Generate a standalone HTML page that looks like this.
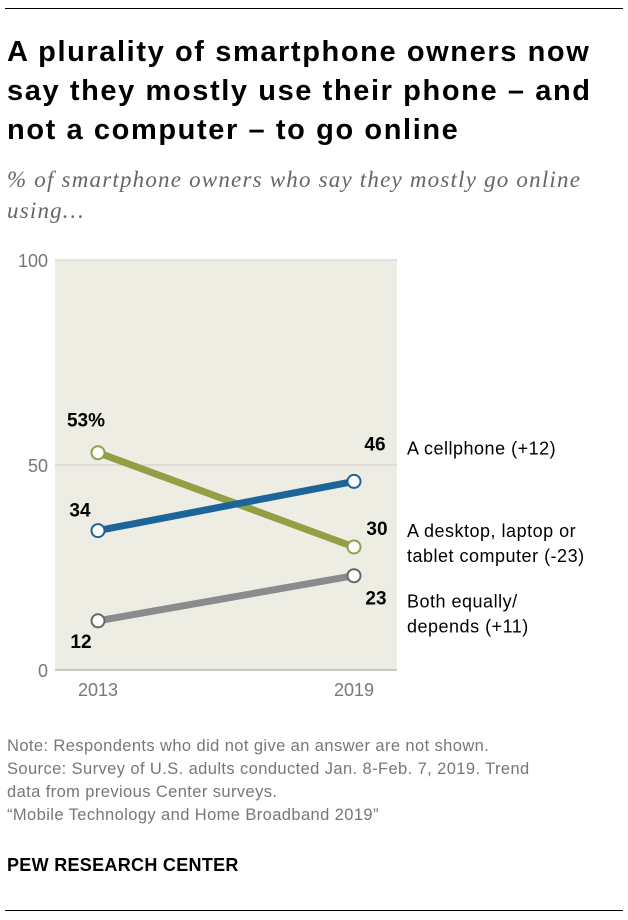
<!DOCTYPE html>
<html><head><meta charset="utf-8"><style>
body{margin:0;width:628px;height:920px;background:#fff;font-family:"Liberation Sans",sans-serif;position:relative;overflow:hidden}
.abs{position:absolute}
</style></head><body>
<div class="abs" style="left:5px;top:8px;width:618px;height:1px;background:#000"></div>
<div class="abs" style="left:7px;top:33px;width:620px;font-weight:bold;font-size:29px;letter-spacing:1.6px;line-height:39px;color:#000;white-space:nowrap">A plurality of smartphone owners now<br>say they mostly use their phone – and<br>not a computer – to go online</div>
<div class="abs" style="left:7px;top:164px;width:620px;font-style:italic;font-size:23px;letter-spacing:1.2px;line-height:31px;color:#666;font-family:'Liberation Serif',serif;white-space:nowrap">% of smartphone owners who say they mostly go online<br>using…</div>
<svg class="abs" style="left:0;top:0" width="628" height="920">
<rect x="55" y="260" width="342" height="410" fill="#eeede4"/>
<g id="grid"></g><g id="lines"></g><g id="labels"></g>
</svg>
<div class="abs" style="left:7px;top:735px;width:620px;font-size:16.5px;letter-spacing:0.4px;line-height:23px;color:#777;white-space:nowrap">Note: Respondents who did not give an answer are not shown.<br>Source: Survey of U.S. adults conducted Jan. 8-Feb. 7, 2019. Trend<br>data from previous Center surveys.<br>“Mobile Technology and Home Broadband 2019”</div>
<div class="abs" style="left:7px;top:855px;font-size:18px;letter-spacing:0.3px;font-weight:bold;color:#000">PEW RESEARCH CENTER</div>
<div class="abs" style="left:5px;top:910px;width:618px;height:1px;background:#000"></div>
<script>
const years=["2013","2019"];
const yTicks=[0,50,100];
const cellphone=[34,46];
const computer=[53,30];
const both=[12,23];
const seriesNames=["A cellphone (+12)","A desktop, laptop or|tablet computer (-23)","Both equally/|depends (+11)"];
const NS="http://www.w3.org/2000/svg";
const xS=i=>98+i*256;
const yS=v=>670-v*4.1;
function mk(t,a,p){const e=document.createElementNS(NS,t);for(const k in a)e.setAttribute(k,a[k]);p.appendChild(e);return e;}
const g=document.getElementById('grid'),L=document.getElementById('lines'),T=document.getElementById('labels');
yTicks.forEach(v=>{
 const l=mk('line',{x1:55,x2:397,y1:yS(v),y2:yS(v),stroke:v==0?'#999':'#ccc','stroke-width':1},g);
 
 
 const t=mk('text',{x:48,y:yS(v)+7,'text-anchor':'end','font-size':18,fill:'#777'},g);t.textContent=v;
 
 
});
years.forEach((y,i)=>{const t=mk('text',{x:xS(i),y:696,'text-anchor':'middle','font-size':18,fill:'#777'},g);t.textContent=y;
 
 });
const series=[[computer,'#939f45','#939f45','computer',[-12,-26],[23,-12]],[cellphone,'#1d6599','#1d6599','cellphone',[-18,-14],[21,-31]],[both,'#8b8b8e','#666','both',[-17,27],[22,29]]];
series.forEach(([d,c,cs,n,o0,o1],si)=>{
 const p=mk('polyline',{points:d.map((v,i)=>xS(i)+','+yS(v)).join(' '),fill:'none',stroke:c,'stroke-width':7},L);
 
 
 d.forEach((v,i)=>{
  const ci=mk('circle',{cx:xS(i),cy:yS(v),r:6.5,fill:'#fff',stroke:cs,'stroke-width':2},L);
  
  
  const o=i==0?o0:o1;
  const t=mk('text',{x:xS(i)+o[0],y:yS(v)+o[1],'text-anchor':'middle','font-size':19,'font-weight':'bold',fill:'#000'},T);
  t.textContent=v+(i==0&&si==0?'%':'');
  
  
 });
});
const nameY=[yS(46)-27,yS(30)-10,yS(23)+32];
seriesNames.forEach((s,i)=>{
 const t=mk('text',{x:407,y:nameY[i],'font-size':18,'letter-spacing':0.5,fill:'#000'},T);
 s.split('|').forEach((ln,j)=>{const ts=mk('tspan',{x:407,dy:j?25:0},t);ts.textContent=ln;});
 
 
});
</script>
</body></html>
